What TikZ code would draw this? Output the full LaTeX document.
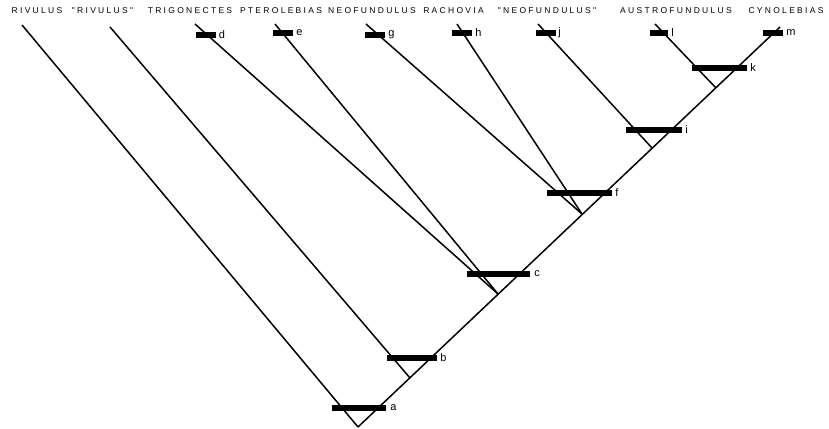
\documentclass[tikz,border=0pt]{standalone}
\usepackage{fontspec}
\setmainfont{Liberation Sans}
\newfontfamily\taxfont[LetterSpace=27]{Liberation Sans}
\begin{document}
\begin{tikzpicture}[x=1pt,y=-1pt,
  branch/.style={line width=1.5pt},
  ibar/.style={fill=black,inner sep=0pt,minimum height=6pt},
  tbar/.style={fill=black,inner sep=0pt,minimum height=6.5pt,minimum width=20pt},
  lab/.style={anchor=west,inner sep=0pt,font=\fontsize{11}{11}\selectfont},
  taxon/.style={inner sep=0pt,font=\taxfont\fontsize{8.5}{9}\selectfont}]
\useasboundingbox (0,0) rectangle (829,428);
% taxon names
\node[taxon] (n1) at (37,11) {RIVULUS};
\node[taxon] (n2) at (102.5,11) {"RIVULUS"};
\node[taxon] (n3) at (190,11) {TRIGONECTES};
\node[taxon] (n4) at (281,11) {PTEROLEBIAS};
\node[taxon] (n5) at (372,11) {NEOFUNDULUS};
\node[taxon] (n6) at (453.5,11) {RACHOVIA};
\node[taxon] (n7) at (547,11) {"NEOFUNDULUS"};
\node[taxon] (n8) at (676,11) {AUSTROFUNDULUS};
\node[taxon] (n9) at (786,11) {CYNOLEBIAS};
% tips
\coordinate (t1) at (22,25);
\coordinate (t2) at (110,27);
\coordinate (t3) at (195,24);
\coordinate (t4) at (275,24);
\coordinate (t5) at (366,24);
\coordinate (t6) at (457,24);
\coordinate (t7) at (538,24);
\coordinate (t8) at (655,24);
\coordinate (t9) at (780,27);
% junctions
\coordinate (root) at (358,427);
\coordinate (jb) at (410,378);
\coordinate (jc) at (498,294);
\coordinate (jf) at (582,214);
\coordinate (ji) at (652,148);
\coordinate (jk) at (716,88);
% branches
\draw[branch] (root) -- (t9);
\draw[branch] (t1) -- (root);
\draw[branch] (t2) -- (jb);
\draw[branch] (t3) -- (jc);
\draw[branch] (t4) -- (jc);
\draw[branch] (t5) -- (jf);
\draw[branch] (t6) -- (jf);
\draw[branch] (t7) -- (ji);
\draw[branch] (t8) -- (jk);
% internal bars
\node[ibar,minimum width=54pt] (ba) at (359,408) {};
\node[ibar,minimum width=50pt] (bb) at (412,358) {};
\node[ibar,minimum width=63pt] (bc) at (498.5,274) {};
\node[ibar,minimum width=65pt] (bf) at (579.5,193) {};
\node[ibar,minimum width=56pt] (bi) at (654,130) {};
\node[ibar,minimum width=55pt] (bk) at (719.5,68) {};
% terminal bars
\node[tbar] (bd) at (205.5,35) {};
\node[tbar] (be) at (283,33) {};
\node[tbar] (bg) at (375,35) {};
\node[tbar] (bh) at (462,33) {};
\node[tbar] (bj) at (546,33) {};
\node[tbar,minimum width=18pt] (bl) at (659,33) {};
\node[tbar] (bm) at (773,33) {};
% labels
\node[lab] (la) at ([xshift=4pt]ba.east) {a};
\node[lab] (lb) at ([xshift=3pt]bb.east) {b};
\node[lab] (lc) at ([xshift=4pt]bc.east) {c};
\node[lab] (lf) at ([xshift=3pt]bf.east) {f};
\node[lab] (li) at ([xshift=3pt]bi.east) {i};
\node[lab] (lk) at ([xshift=3pt]bk.east) {k};
\node[lab] (ld) at ([xshift=3pt]bd.east) {d};
\node[lab] (le) at ([xshift=3pt]be.east) {e};
\node[lab] (lg) at ([xshift=3pt]bg.east) {g};
\node[lab] (lh) at ([xshift=3pt]bh.east) {h};
\node[lab] (lj) at ([xshift=2pt]bj.east) {j};
\node[lab] (ll) at ([xshift=3pt]bl.east) {l};
\node[lab] (lm) at ([xshift=3pt]bm.east) {m};
\end{tikzpicture}
\end{document}
